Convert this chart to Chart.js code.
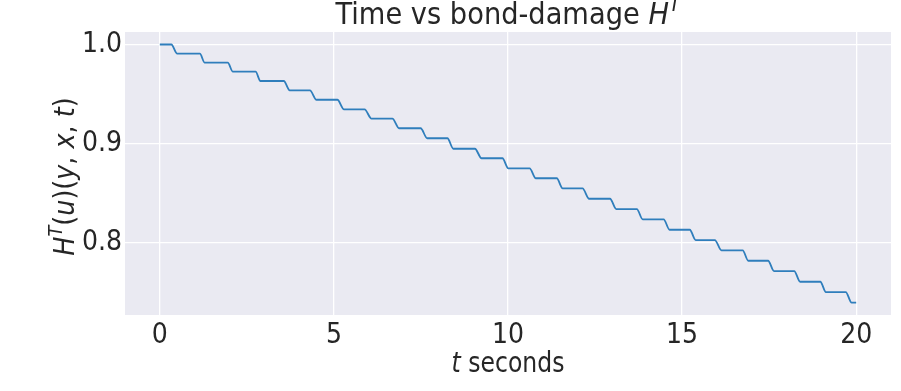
<!DOCTYPE html>
<html>
<head>
<meta charset="utf-8">
<script src="https://cdn.jsdelivr.net/npm/chart.js@4.4.0/dist/chart.umd.min.js"></script>
<style>
  html, body { margin: 0; padding: 0; background: #ffffff; }
  #wrap { width: 901px; height: 391px; position: relative; }
</style>
</head>
<body>
<div id="wrap"><canvas id="myChart"></canvas></div>
<script>
// bond-damage staircase: each drop goes from dropStart to dropEnd (seconds)
const dropStart = [0.33, 1.15, 1.95, 2.75, 3.56, 4.31, 5.10, 5.88, 6.68, 7.49, 8.26, 9.05, 9.84,
  10.62, 11.40, 12.14, 12.93, 13.70, 14.47, 15.22, 15.94, 16.74, 17.47, 18.22, 18.97, 19.70];
const dropEnd = [0.50, 1.29, 2.10, 2.89, 3.73, 4.50, 5.29, 6.08, 6.87, 7.68, 8.43, 9.24, 10.01,
  10.80, 11.57, 12.33, 13.11, 13.87, 14.64, 15.39, 16.13, 16.90, 17.64, 18.39, 19.13, 19.87];
// H^T level on each plateau (one more than the number of drops)
const levels = [1.0, 0.9907, 0.9816, 0.9725, 0.9631, 0.9537, 0.9442, 0.9345, 0.9251, 0.9154,
  0.9053, 0.8947, 0.8851, 0.8749, 0.8649, 0.8547, 0.8442, 0.8338, 0.8234, 0.8129, 0.8025,
  0.7921, 0.7816, 0.7712, 0.7604, 0.7500, 0.7392];
const tStart = 0;
const tEnd = 20;

const xTicks = [0, 5, 10, 15, 20];
const yTicks = [0.8, 0.9, 1.0];

const ink = "#262626";
const fontFam = "'DejaVu Sans', sans-serif";
const tickFam = "'DejaVu Sans Condensed', 'DejaVu Sans', sans-serif";

// plateau corners -> points for the line
const points = [{ x: tStart, y: levels[0] }];
for (let i = 0; i < dropStart.length; i++) {
  points.push({ x: dropStart[i], y: levels[i] });
  points.push({ x: dropEnd[i], y: levels[i + 1] });
}
points.push({ x: tEnd, y: levels[levels.length - 1] });

// draw a run of text pieces, some italic / superscript, centred on cx,
// squeezed horizontally by sx
function drawRich(ctx, parts, cx, baseY, size, sx) {
  const fontOf = (p) => {
    const s = p.sup ? size * 0.7 : size;
    return (p.i ? "italic " : "") + s + "px " + fontFam;
  };
  let total = 0;
  parts.forEach((p) => {
    ctx.font = fontOf(p);
    p.w = ctx.measureText(p.t).width;
    total += p.w;
  });
  ctx.save();
  ctx.translate(cx, baseY);
  ctx.scale(sx, 1);
  let x = -total / 2;
  parts.forEach((p) => {
    ctx.font = fontOf(p);
    ctx.fillText(p.t, x, p.sup ? -size * 0.42 : 0);
    x += p.w;
  });
  ctx.restore();
}

const decor = {
  id: "decor",
  beforeDraw(chart) {
    const { ctx, chartArea: a } = chart;
    ctx.save();
    ctx.fillStyle = "#eaeaf2";
    ctx.fillRect(a.left, a.top, a.right - a.left, a.bottom - a.top);
    ctx.restore();
  },
  afterDraw(chart) {
    const { ctx, chartArea: a } = chart;
    const cx = (a.left + a.right) / 2;
    ctx.save();
    ctx.fillStyle = ink;
    ctx.textBaseline = "alphabetic";
    // title
    drawRich(ctx, [
      { t: "Time vs bond-damage " },
      { t: "H", i: true },
      { t: "T", i: true, sup: true }
    ], cx, 24, 31, 0.88);
    // x label
    drawRich(ctx, [{ t: "t", i: true }, { t: " seconds" }], cx, 372, 28, 0.84);
    // y label
    ctx.translate(74, (a.top + a.bottom) / 2 + 3);
    ctx.rotate(-Math.PI / 2);
    drawRich(ctx, [
      { t: "H", i: true }, { t: "T", i: true, sup: true },
      { t: "(" }, { t: "u", i: true }, { t: ")(" },
      { t: "y", i: true }, { t: ", " }, { t: "x", i: true },
      { t: ", " }, { t: "t", i: true }, { t: ")" }
    ], 0, 0, 28, 0.91);
    ctx.restore();
  }
};

const ctx = document.getElementById("myChart");

new Chart(ctx, {
  type: "scatter",
  data: {
    datasets: [
      {
        data: points,
        showLine: true,
        borderColor: "#2f7ebc",
        borderWidth: 1.8,
        pointRadius: 0,
        fill: false,
        cubicInterpolationMode: "monotone"
      }
    ]
  },
  options: {
    responsive: true,
    maintainAspectRatio: false,
    animation: false,
    layout: { padding: { top: 32, right: 10, left: 0, bottom: 0 } },
    plugins: {
      legend: { display: false },
      tooltip: { enabled: false },
      title: { display: false }
    },
    scales: {
      x: {
        type: "linear",
        min: -1,
        max: 21,
        afterBuildTicks: (axis) => { axis.ticks = xTicks.map((v) => ({ value: v })); },
        afterFit: (axis) => { axis.height = 76; },
        border: { display: false },
        grid: { color: "#ffffff", lineWidth: 1.3, drawTicks: false },
        ticks: {
          color: ink,
          padding: 4,
          maxRotation: 0,
          font: { family: tickFam, size: 28 },
          callback: (v) => String(v)
        }
      },
      y: {
        type: "linear",
        min: 0.7268,
        max: 1.0126,
        afterBuildTicks: (axis) => { axis.ticks = yTicks.map((v) => ({ value: v })); },
        afterFit: (axis) => { axis.width = 125; },
        border: { display: false },
        grid: { color: "#ffffff", lineWidth: 1.3, drawTicks: false },
        ticks: {
          color: ink,
          padding: 3,
          font: { family: tickFam, size: 28 },
          callback: (v) => v.toFixed(1)
        }
      }
    }
  },
  plugins: [decor]
});
</script>
</body>
</html>
